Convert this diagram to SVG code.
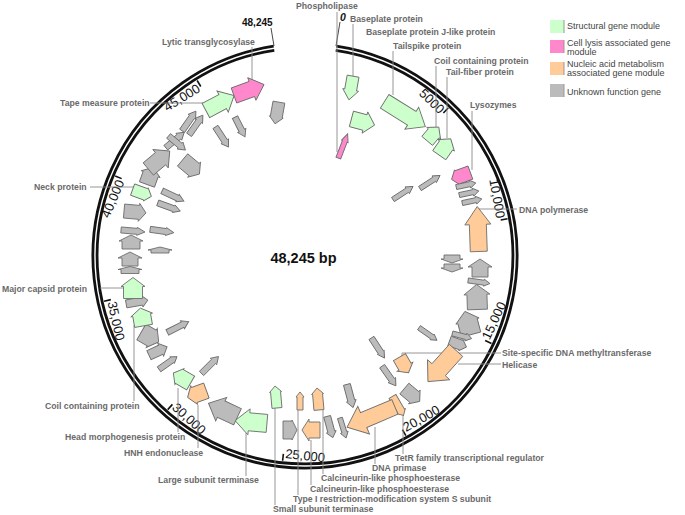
<svg xmlns="http://www.w3.org/2000/svg" width="685" height="515" viewBox="0 0 685 515">
<style>
text{font-family:"Liberation Sans",Arial,sans-serif}
.lb{font-size:8.7px;font-weight:bold;fill:#6a6a6a}
.lg{font-size:9px;fill:#444}
.tk{font-size:13px;fill:#111}
.ld{stroke:#8a8a8a;stroke-width:0.9;fill:none}
.s{fill:#ccffcc}.l{fill:#ff88cc}.n{fill:#ffcc99}.u{fill:#bbbbbb}
#genes path{stroke:#6e6e6e;stroke-width:0.9}
.tick{stroke:#111;stroke-width:1.6}
</style>
<rect width="685" height="515" fill="#fff"/>
<g id="ring">
<path d="M336.04 48.31A210 210 0 1 1 273.96 48.31" fill="none" stroke="#111" stroke-width="7"/>
<path d="M336.04 48.31A210 210 0 1 1 273.96 48.31" fill="none" stroke="#fff" stroke-width="1.4"/>
<line class="tick" x1="305" y1="50" x2="305" y2="57" transform="rotate(44.05 305 256)"/>
<line class="tick" x1="305" y1="50" x2="305" y2="57" transform="rotate(79.59 305 256)"/>
<line class="tick" x1="305" y1="50" x2="305" y2="57" transform="rotate(115.14 305 256)"/>
<line class="tick" x1="305" y1="50" x2="305" y2="57" transform="rotate(150.69 305 256)"/>
<line class="tick" x1="305" y1="50" x2="305" y2="57" transform="rotate(186.24 305 256)"/>
<line class="tick" x1="305" y1="50" x2="305" y2="57" transform="rotate(221.78 305 256)"/>
<line class="tick" x1="305" y1="50" x2="305" y2="57" transform="rotate(257.33 305 256)"/>
<line class="tick" x1="305" y1="50" x2="305" y2="57" transform="rotate(292.88 305 256)"/>
<line class="tick" x1="305" y1="50" x2="305" y2="57" transform="rotate(328.42 305 256)"/>
<line x1="336" y1="46" x2="340" y2="22" stroke="#333" stroke-width="0.9"/>
<line x1="274" y1="46" x2="271" y2="28" stroke="#333" stroke-width="0.9"/>
<text class="tk" transform="rotate(44.05 305 256)" x="303" y="61" text-anchor="end">5000</text>
<text class="tk" transform="rotate(79.59 305 256)" x="303" y="61" text-anchor="end">10,000</text>
<text class="tk" transform="rotate(295.14 305 256)" x="307" y="459">15,000</text>
<text class="tk" transform="rotate(330.69 305 256)" x="307" y="459">20,000</text>
<text class="tk" transform="rotate(366.24 305 256)" x="307" y="459">25,000</text>
<text class="tk" transform="rotate(401.78 305 256)" x="307" y="459">30,000</text>
<text class="tk" transform="rotate(437.33 305 256)" x="307" y="459">35,000</text>
<text class="tk" transform="rotate(292.88 305 256)" x="303" y="61" text-anchor="end">40,000</text>
<text class="tk" transform="rotate(328.42 305 256)" x="303" y="61" text-anchor="end">45,000</text>
<text x="340" y="21" font-size="10.5" font-weight="bold" font-style="italic" fill="#111">0</text>
<text x="242" y="26" font-size="10" font-weight="bold" fill="#111">48,245</text>
<text x="303.5" y="263" font-size="14.5" font-weight="bold" fill="#111" text-anchor="middle">48,245 bp</text>
</g>
<g id="connectors">
<path class="ld" d="M337 12V152"/>
<path class="ld" d="M353 24V77"/>
<path class="ld" d="M393 51V95"/>
<path class="ld" d="M436 66V127"/>
<path class="ld" d="M447 77V138"/>
<path class="ld" d="M472 111V170"/>
<path class="ld" d="M478 209H517"/>
<path class="ld" d="M402 358V353H501"/>
<path class="ld" d="M458 364H501"/>
<path class="ld" d="M403 413V454"/>
<path class="ld" d="M375 427V464"/>
<path class="ld" d="M323 410V474"/>
<path class="ld" d="M311 440V485"/>
<path class="ld" d="M298 410V495"/>
<path class="ld" d="M275 408V505"/>
<path class="ld" d="M246 433V476"/>
<path class="ld" d="M198 405V448"/>
<path class="ld" d="M178 388V432"/>
<path class="ld" d="M134 325V401"/>
<path class="ld" d="M100 288H124"/>
<path class="ld" d="M90 187H135"/>
<path class="ld" d="M150 103H205"/>
<path class="ld" d="M252 47V80"/>
</g>
<g id="genes">
<g id="g01"><path class="l" transform="translate(343 146) rotate(-69)" d="M-13-2.5H5V-3.5L13 0L5 3.5V2.5H-13Z"/></g>
<g id="g02"><path class="s" transform="translate(351 88) rotate(100)" d="M-12-6H2V-8L12 0L2 8V6H-12Z"/></g>
<g id="g03"><path class="s" transform="translate(363 122) rotate(15)" d="M-12-8H2V-11L12 0L2 11V8H-12Z"/></g>
<g id="g04"><path class="s" transform="translate(405 114) rotate(32)" d="M-24-8H8V-13L24 0L8 13V8H-24Z"/></g>
<g id="g05"><path class="s" transform="translate(433 134) rotate(-50)" d="M-9-7H1V-9L9 0L1 9V7H-9Z"/></g>
<g id="g06"><path class="s" transform="translate(445 147) rotate(-55)" d="M-10-8H2V-10L10 0L2 10V8H-10Z"/></g>
<g id="g07"><path class="l" transform="translate(461 176) rotate(160)" d="M-10-7H4V-8L10 0L4 8V7H-10Z"/></g>
<g id="g08"><path class="u" transform="translate(466 185) rotate(-12)" d="M-10-2.5H4V-4L10 0L4 4V2.5H-10Z"/></g>
<g id="g09"><path class="u" transform="translate(469 193) rotate(-12)" d="M-10-2.5H4V-4L10 0L4 4V2.5H-10Z"/></g>
<g id="g10"><path class="u" transform="translate(472 201) rotate(-12)" d="M-10-2.5H4V-4L10 0L4 4V2.5H-10Z"/></g>
<g id="g11"><path class="u" transform="translate(430 182) rotate(-33)" d="M-12-2.5H5V-4L12 0L5 4V2.5H-12Z"/></g>
<g id="g12"><path class="u" transform="translate(403 193) rotate(-33)" d="M-12-2.5H5V-4L12 0L5 4V2.5H-12Z"/></g>
<g id="g13"><path class="n" transform="translate(478 229) rotate(-92)" d="M-22.5-8.5H4.5V-13L22.5 0L4.5 13V8.5H-22.5Z"/></g>
<g id="g14"><path class="u" transform="translate(452 259) rotate(90)" d="M-4-8H0V-11L4 0L0 11V8H-4Z"/></g>
<g id="g15"><path class="u" transform="translate(452 268) rotate(90)" d="M-4-8H0V-11L4 0L0 11V8H-4Z"/></g>
<g id="g16"><path class="u" transform="translate(480 268) rotate(-90)" d="M-9-8H1V-12L9 0L1 12V8H-9Z"/></g>
<g id="g17"><path class="u" transform="translate(479 282) rotate(8)" d="M-11-2.5H5V-3.5L11 0L5 3.5V2.5H-11Z"/></g>
<g id="g18"><path class="u" transform="translate(477 297) rotate(-92)" d="M-12.5-10H2.5V-13L12.5 0L2.5 13V10H-12.5Z"/></g>
<g id="g19"><path class="u" transform="translate(468 323) rotate(-105)" d="M-12-10H2V-12L12 0L2 12V10H-12Z"/></g>
<g id="g20"><path class="u" transform="translate(462 336) rotate(15)" d="M-10-2.5H4V-4L10 0L4 4V2.5H-10Z"/></g>
<g id="g21"><path class="u" transform="translate(458 344) rotate(20)" d="M-9-5H3V-6L9 0L3 6V5H-9Z"/></g>
<g id="g22"><path class="u" transform="translate(428 334) rotate(35)" d="M-11-2.5H5V-3.5L11 0L5 3.5V2.5H-11Z"/></g>
<g id="g23"><path class="n" transform="translate(442 366) rotate(132)" d="M-21-9H5V-15L21 0L5 15V9H-21Z"/></g>
<g id="g24"><path class="n" transform="translate(404 365) rotate(60)" d="M-9-7H2V-9L9 0L2 9V7H-9Z"/></g>
<g id="g25"><path class="u" transform="translate(378 348) rotate(57)" d="M-12-3H5V-4L12 0L5 4V3H-12Z"/></g>
<g id="g26"><path class="u" transform="translate(389 376) rotate(55)" d="M-12-3H5V-4.5L12 0L5 4.5V3H-12Z"/></g>
<g id="g27"><path class="u" transform="translate(412 395) rotate(40)" d="M-10-7H3V-9L10 0L3 9V7H-10Z"/></g>
<g id="g28"><path class="n" transform="translate(398 406) rotate(60)" d="M-11-4H6V-5L11 0L6 5V4H-11Z"/></g>
<g id="g29"><path class="n" transform="translate(371 417) rotate(157)" d="M-26-8H8V-15L26 0L8 15V8H-26Z"/></g>
<g id="g30"><path class="u" transform="translate(350 396) rotate(75)" d="M-12-3.5H5V-5L12 0L5 5V3.5H-12Z"/></g>
<g id="g31"><path class="u" transform="translate(343 428) rotate(73)" d="M-10.5-2.5H4.5V-4L10.5 0L4.5 4V2.5H-10.5Z"/></g>
<g id="g32"><path class="u" transform="translate(330 427) rotate(75)" d="M-11-3.5H5V-5L11 0L5 5V3.5H-11Z"/></g>
<g id="g33"><path class="n" transform="translate(318 399) rotate(-95)" d="M-11-5H5V-6L11 0L5 6V5H-11Z"/></g>
<g id="g34"><path class="n" transform="translate(311 430) rotate(180)" d="M-9-8H2V-11L9 0L2 11V8H-9Z"/></g>
<g id="g35"><path class="u" transform="translate(290 430)" d="M-7-9H2V-10L7 0L2 10V9H-7Z"/></g>
<g id="g36"><path class="n" transform="translate(300 401) rotate(-90)" d="M-9-3H4V-4L9 0L4 4V3H-9Z"/></g>
<g id="g37"><path class="s" transform="translate(276 397) rotate(-95)" d="M-11-5H5V-6L11 0L5 6V5H-11Z"/></g>
<g id="g38"><path class="s" transform="translate(251 422) rotate(185)" d="M-16-9H2V-13L16 0L2 13V9H-16Z"/></g>
<g id="g39"><path class="u" transform="translate(223 410) rotate(205)" d="M-16-9H2V-13L16 0L2 13V9H-16Z"/></g>
<g id="g40"><path class="n" transform="translate(197 394) rotate(160)" d="M-10-8H3V-10L10 0L3 10V8H-10Z"/></g>
<g id="g41"><path class="s" transform="translate(182 378) rotate(-150)" d="M-10-8H3V-9L10 0L3 9V8H-10Z"/></g>
<g id="g42"><path class="u" transform="translate(210 365) rotate(-45)" d="M-12-3H5V-4.5L12 0L5 4.5V3H-12Z"/></g>
<g id="g43"><path class="u" transform="translate(168 363) rotate(-35)" d="M-11-3H5V-4L11 0L5 4V3H-11Z"/></g>
<g id="g44"><path class="u" transform="translate(158 351) rotate(-25)" d="M-10-5H3V-7L10 0L3 7V5H-10Z"/></g>
<g id="g45"><path class="u" transform="translate(178 327) rotate(-27)" d="M-12-3H5V-4.5L12 0L5 4.5V3H-12Z"/></g>
<g id="g46"><path class="u" transform="translate(150 337) rotate(30)" d="M-10-9H2V-11L10 0L2 11V9H-10Z"/></g>
<g id="g47"><path class="s" transform="translate(142 317) rotate(-100)" d="M-9-9H2V-11L9 0L2 11V9H-9Z"/></g>
<g id="g48"><path class="u" transform="translate(137 302) rotate(-10)" d="M-11-4H5V-6L11 0L5 6V4H-11Z"/></g>
<g id="g49"><path class="s" transform="translate(133 288) rotate(-90)" d="M-10.5-9.5H1.5V-12L10.5 0L1.5 12V9.5H-10.5Z"/></g>
<g id="g50"><path class="u" transform="translate(130 259) rotate(-90)" d="M-7-8H1V-12L7 0L1 12V8H-7Z"/></g>
<g id="g51"><path class="u" transform="translate(130 270) rotate(-90)" d="M-3.5-9H0.5V-12L3.5 0L0.5 12V9H-3.5Z"/></g>
<g id="g52"><path class="u" transform="translate(160 250) rotate(-90)" d="M-3-9H0V-12L3 0L0 12V9H-3Z"/></g>
<g id="g53"><path class="u" transform="translate(131 242) rotate(-90)" d="M-7-9H1V-12L7 0L1 12V9H-7Z"/></g>
<g id="g54"><path class="u" transform="translate(133 231) rotate(5)" d="M-12-3H4V-4L12 0L4 4V3H-12Z"/></g>
<g id="g55"><path class="u" transform="translate(162 231) rotate(8)" d="M-12-3H4V-4L12 0L4 4V3H-12Z"/></g>
<g id="g56"><path class="u" transform="translate(135 212) rotate(5)" d="M-11-7H4V-9L11 0L4 9V7H-11Z"/></g>
<g id="g57"><path class="u" transform="translate(169 207) rotate(20)" d="M-12-3H5V-4L12 0L5 4V3H-12Z"/></g>
<g id="g58"><path class="u" transform="translate(173 196) rotate(25)" d="M-12-3H5V-4L12 0L5 4V3H-12Z"/></g>
<g id="g59"><path class="s" transform="translate(142 193) rotate(20)" d="M-10-6H4V-7L10 0L4 7V6H-10Z"/></g>
<g id="g60"><path class="u" transform="translate(150 176) rotate(-70)" d="M-9-8H2V-10L9 0L2 10V8H-9Z"/></g>
<g id="g61"><path class="u" transform="translate(159 160) rotate(-40)" d="M-14-8H2V-12L14 0L2 12V8H-14Z"/></g>
<g id="g62"><path class="u" transform="translate(191 167) rotate(40)" d="M-11-8H4V-10L11 0L4 10V8H-11Z"/></g>
<g id="g63"><path class="u" transform="translate(175 140) rotate(-40)" d="M-12-3H5V-4.5L12 0L5 4.5V3H-12Z"/></g>
<g id="g64"><path class="u" transform="translate(177 143) rotate(40)" d="M-11-3H4V-4.5L11 0L4 4.5V3H-11Z"/></g>
<g id="g65"><path class="u" transform="translate(189 121) rotate(-55)" d="M-12-3H5V-4.5L12 0L5 4.5V3H-12Z"/></g>
<g id="g66"><path class="u" transform="translate(196 125) rotate(-55)" d="M-12-3H5V-4.5L12 0L5 4.5V3H-12Z"/></g>
<g id="g67"><path class="s" transform="translate(220 103) rotate(-28)" d="M-16-8H3V-12L16 0L3 12V8H-16Z"/></g>
<g id="g68"><path class="l" transform="translate(249 90) rotate(-20)" d="M-16-8H3V-12L16 0L3 12V8H-16Z"/></g>
<g id="g69"><path class="u" transform="translate(277 113) rotate(100)" d="M-11-6H4V-7L11 0L4 7V6H-11Z"/></g>
<g id="g70"><path class="u" transform="translate(240 127) rotate(63)" d="M-11-3H4V-4.5L11 0L4 4.5V3H-11Z"/></g>
<g id="g71"><path class="u" transform="translate(222 137) rotate(57)" d="M-12-3H5V-4.5L12 0L5 4.5V3H-12Z"/></g>
</g>
<g id="labels">
<text class="lb" x="296" y="9">Phospholipase</text>
<text class="lb" x="350" y="22">Baseplate protein</text>
<text class="lb" x="366" y="35">Baseplate protein J-like protein</text>
<text class="lb" x="393" y="49">Tailspike protein</text>
<text class="lb" x="434" y="64">Coil containing protein</text>
<text class="lb" x="446" y="75">Tail-fiber protein</text>
<text class="lb" x="470" y="108">Lysozymes</text>
<text class="lb" x="519" y="213">DNA polymerase</text>
<text class="lb" x="502" y="356">Site-specific DNA methyltransferase</text>
<text class="lb" x="502" y="368">Helicase</text>
<text class="lb" x="395" y="461">TetR family transcriptional regulator</text>
<text class="lb" x="372" y="471">DNA primase</text>
<text class="lb" x="321" y="481">Calcineurin-like phosphoesterase</text>
<text class="lb" x="310" y="492">Calcineurin-like phosphoesterase</text>
<text class="lb" x="293" y="502">Type I restriction-modification system S subunit</text>
<text class="lb" x="273" y="512">Small subunit terminase</text>
<text class="lb" x="158" y="483">Large subunit terminase</text>
<text class="lb" x="124" y="456">HNH endonuclease</text>
<text class="lb" x="65" y="440">Head morphogenesis protein</text>
<text class="lb" x="45" y="409">Coil containing protein</text>
<text class="lb" x="2" y="292">Major capsid protein</text>
<text class="lb" x="34" y="190">Neck protein</text>
<text class="lb" x="60" y="106">Tape measure protein</text>
<text class="lb" x="162" y="45">Lytic transglycosylase</text>
</g>
<g id="legend">
<rect class="s" x="550" y="20" width="14" height="13"/>
<rect class="l" x="550" y="40" width="14" height="13"/>
<rect class="n" x="550" y="62" width="14" height="13"/>
<rect class="u" x="550" y="84" width="14" height="13"/>
<path d="M564 20V33M564 40V53M564 62V75M564 84V97" stroke="#999" stroke-width="1"/>
<text class="lg" x="567" y="29">Structural gene module</text>
<text class="lg" x="567" y="46">Cell lysis associated gene</text>
<text class="lg" x="567" y="55">module</text>
<text class="lg" x="567" y="67">Nucleic acid metabolism</text>
<text class="lg" x="567" y="76">associated gene module</text>
<text class="lg" x="567" y="95">Unknown function gene</text>
</g>
</svg>
